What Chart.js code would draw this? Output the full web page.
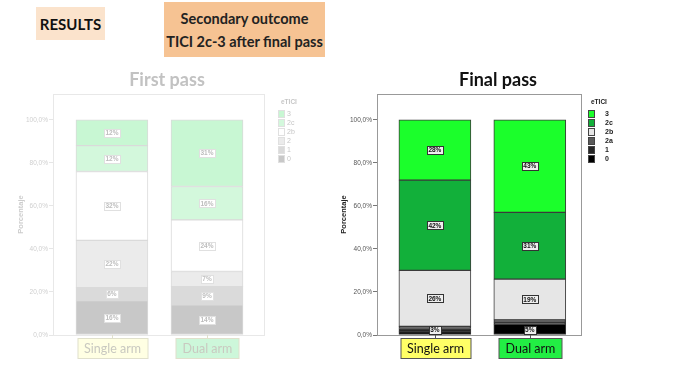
<!DOCTYPE html>
<html>
<head>
<meta charset="utf-8">
<script src="https://cdn.jsdelivr.net/npm/chart.js@4.4.0/dist/chart.umd.min.js"></script>
<style>
  body { margin: 0; background: #fff; width: 693px; height: 392px; overflow: hidden; position: relative; font-family: Lato, sans-serif; }
  .box { position: absolute; display: flex; flex-direction: column; align-items: center; justify-content: center; text-align: center; color: #111; }
  #results { left: 36px; top: 7px; width: 69px; height: 33px; background: #fbe3cc; font-weight: bold; font-size: 15px; }
  #outcome { left: 164px; top: 2px; width: 161px; height: 55px; background: #f6c393; font-size: 14.5px; font-weight: bold; line-height: 23px; color: #222; }
  canvas { position: absolute; top: 60px; }
  #first { left: 0; }
  #final { left: 320px; }
</style>
</head>
<body>
<div class="box" id="results">RESULTS</div>
<div class="box" id="outcome"><span>Secondary outcome</span><span>TICI 2c-3 after final pass</span></div>
<canvas id="first" width="320" height="310"></canvas>
<canvas id="final" width="373" height="310"></canvas>
<script>
// categories
const arms = ['Single arm', 'Dual arm'];
const yTicks = [0, 20, 40, 60, 80, 100];

// First pass, % per eTICI grade (bottom to top)
const firstLevels = ['0', '1', '2', '2b', '2c', '3'];
const first0 = [16, 14];
const first1 = [6, 8.5];
const first2 = [22, 7];
const first2b = [32, 24];
const first2c = [12, 15.5];
const first3 = [12, 31];

// Final pass
const finalLevels = ['0', '1', '2a', '2b', '2c', '3'];
const final0 = [1.5, 5];
const final1 = [1.5, 1];
const final2a = [1, 1];
const final2b = [26, 19];
const final2c = [42, 31];
const final3 = [28, 43];
const finalBottomText = ['3%', '5%'];

// draws frame, segment labels, arm boxes, legend and title
const slidePlugin = {
  id: 'slide',
  afterDatasetsDraw(chart, args, o) {
    const ctx = chart.ctx;
    const a = chart.chartArea;
    ctx.save();
    ctx.lineWidth = 1;
    ctx.strokeStyle = o.frame;
    ctx.strokeRect(Math.round(a.left) + 0.5, Math.round(a.top) + 0.5, Math.round(a.right - a.left) - 1, Math.round(a.bottom - a.top));

    // percentage labels
    ctx.font = 'bold 6.5px Arial';
    ctx.textAlign = 'center';
    ctx.textBaseline = 'middle';
    chart.data.datasets.forEach(function(ds, i) {
      chart.getDatasetMeta(i).data.forEach(function(el, j) {
        const v = ds.data[j].y;
        let txt = v >= o.minLabel ? Math.round(v) + '%' : null;
        let y = (el.y + el.base) / 2;
        if (i === 0 && o.bottomText) {
          txt = o.bottomText[j];
          y = chart.scales.y.getPixelForValue(2.5);
        }
        if (!txt) return;
        const w = Math.round(ctx.measureText(txt).width) + 3;
        const h = 8;
        const x0 = Math.round(el.x - w / 2) + 0.5;
        const y0 = Math.round(y - h / 2) + 0.5;
        ctx.fillStyle = o.labelFill;
        ctx.fillRect(x0, y0, w, h);
        ctx.strokeStyle = o.labelStroke;
        ctx.strokeRect(x0, y0, w, h);
        ctx.fillStyle = o.labelText;
        ctx.fillText(txt, el.x, y + 0.5);
      });
    });

    // arm boxes under the axis
    ctx.font = '12.5px Lato';
    arms.forEach(function(name, j) {
      const x = Math.round(chart.scales.x.getPixelForValue(j)) + 0.5;
      const w = Math.round(ctx.measureText(name).width) + 13;
      const top = Math.round(a.bottom) + 3.5;
      ctx.strokeStyle = o.armStroke;
      ctx.beginPath();
      ctx.moveTo(x, a.bottom);
      ctx.lineTo(x, top);
      ctx.stroke();
      ctx.fillStyle = o.armFill[j];
      ctx.fillRect(Math.round(x - w / 2), top, w, 20);
      ctx.strokeRect(Math.round(x - w / 2), top, w, 20);
      ctx.fillStyle = o.armText;
      ctx.fillText(name, x, top + 10.5);
    });

    // legend
    ctx.textAlign = 'left';
    ctx.fillStyle = o.legendText;
    ctx.font = 'bold 6.5px Arial';
    ctx.fillText('eTICI', o.legendX + 3, 42);
    const n = chart.data.datasets.length;
    for (let k = 0; k < n; k++) {
      const ds = chart.data.datasets[n - 1 - k];
      const cy = 54 + k * 9;
      ctx.fillStyle = ds.backgroundColor;
      ctx.fillRect(o.legendX + 0.5, cy - 3.5, 6, 7);
      ctx.strokeStyle = o.legendStroke;
      ctx.strokeRect(o.legendX + 0.5, cy - 3.5, 6, 7);
      ctx.fillStyle = o.legendText;
      ctx.font = (o.legendBold ? 'bold ' : '') + '7px Arial';
      ctx.fillText(ds.label, o.legendX + o.legendGap, cy + 0.5);
    }

    // title
    ctx.textAlign = 'center';
    ctx.fillStyle = o.titleColor;
    ctx.font = 'bold 18px Lato';
    ctx.fillText(o.title, o.titleX, 20);
    ctx.restore();
  }
};

function makeDatasets(levels, series, colors, border) {
  return levels.map(function(lv, i) {
    return {
      label: lv,
      data: series[i].map(function(v, j) { return { x: j, y: v }; }),
      backgroundColor: colors[i],
      borderColor: border,
      borderWidth: 1,
      borderSkipped: false,
      barThickness: 72
    };
  });
}

function makeChart(id, datasets, opts) {
  return new Chart(document.getElementById(id), {
    type: 'bar',
    data: { datasets: datasets },
    options: {
      responsive: false,
      animation: false,
      layout: { padding: { top: 34, right: opts.padRight, bottom: 35, left: 0 } },
      plugins: { legend: { display: false }, tooltip: { enabled: false }, slide: opts.slide },
      scales: {
        x: { type: 'linear', stacked: true, offset: false, min: opts.xMin, max: opts.xMax, display: false },
        y: {
          stacked: true,
          min: 0,
          max: 112,
          afterBuildTicks: function(s) { s.ticks = yTicks.map(function(v) { return { value: v }; }); },
          afterFit: function(s) { s.width = opts.axisWidth; },
          ticks: {
            callback: function(v) { return v.toFixed(1).replace('.', ',') + '%'; },
            font: { size: 6.5, family: 'Arial' },
            color: opts.tickColor,
            padding: 1
          },
          grid: { drawOnChartArea: false, tickLength: 4, color: opts.axisColor },
          border: { color: opts.axisColor },
          title: {
            display: true,
            text: 'Porcentaje',
            font: { size: 7.5, weight: 'bold', family: 'Arial' },
            color: opts.axisTitleColor,
            padding: { top: opts.titlePad, bottom: 0 }
          }
        }
      }
    },
    plugins: [slidePlugin]
  });
}

makeChart('first',
  makeDatasets(firstLevels, [first0, first1, first2, first2b, first2c, first3],
    ['#c8c8c8', '#dadada', '#ebebeb', '#ffffff', '#d3f8dc', '#c8f7d3'], '#dadada'),
  {
    padRight: 55, axisWidth: 53, xMin: -0.62, xMax: 1.61, titlePad: 16,
    tickColor: '#cfcfcf', axisColor: '#e6e6e6', axisTitleColor: '#cccccc',
    slide: {
      title: 'First pass', titleX: 167, titleColor: '#c2c2c2', frame: '#e8e8e8',
      minLabel: 0, bottomText: null,
      labelFill: '#ffffff', labelStroke: '#e0e0e0', labelText: '#bdbdbd',
      armFill: ['#ffffe3', '#cdf7da'], armStroke: '#e0e0cc', armText: '#c9c9c0',
      legendX: 278, legendGap: 9, legendText: '#c6c6c6', legendStroke: '#e0e0e0', legendBold: false
    }
  });

makeChart('final',
  makeDatasets(finalLevels, [final0, final1, final2a, final2b, final2c, final3],
    ['#000000', '#262626', '#5a5a5a', '#e6e6e6', '#12b03a', '#1bff2b'], '#3a3a3a'),
  {
    padRight: 111, axisWidth: 57, xMin: -0.61, xMax: 1.55, titlePad: 19,
    tickColor: '#555555', axisColor: '#777777', axisTitleColor: '#222222',
    slide: {
      title: 'Final pass', titleX: 178, titleColor: '#111111', frame: '#999999',
      minLabel: 5, bottomText: finalBottomText,
      labelFill: '#efefef', labelStroke: '#333333', labelText: '#111111',
      armFill: ['#ffff66', '#22ee44'], armStroke: '#555555', armText: '#111111',
      legendX: 268, legendGap: 17, legendText: '#222222', legendStroke: '#444444', legendBold: true
    }
  });
</script>
</body>
</html>
